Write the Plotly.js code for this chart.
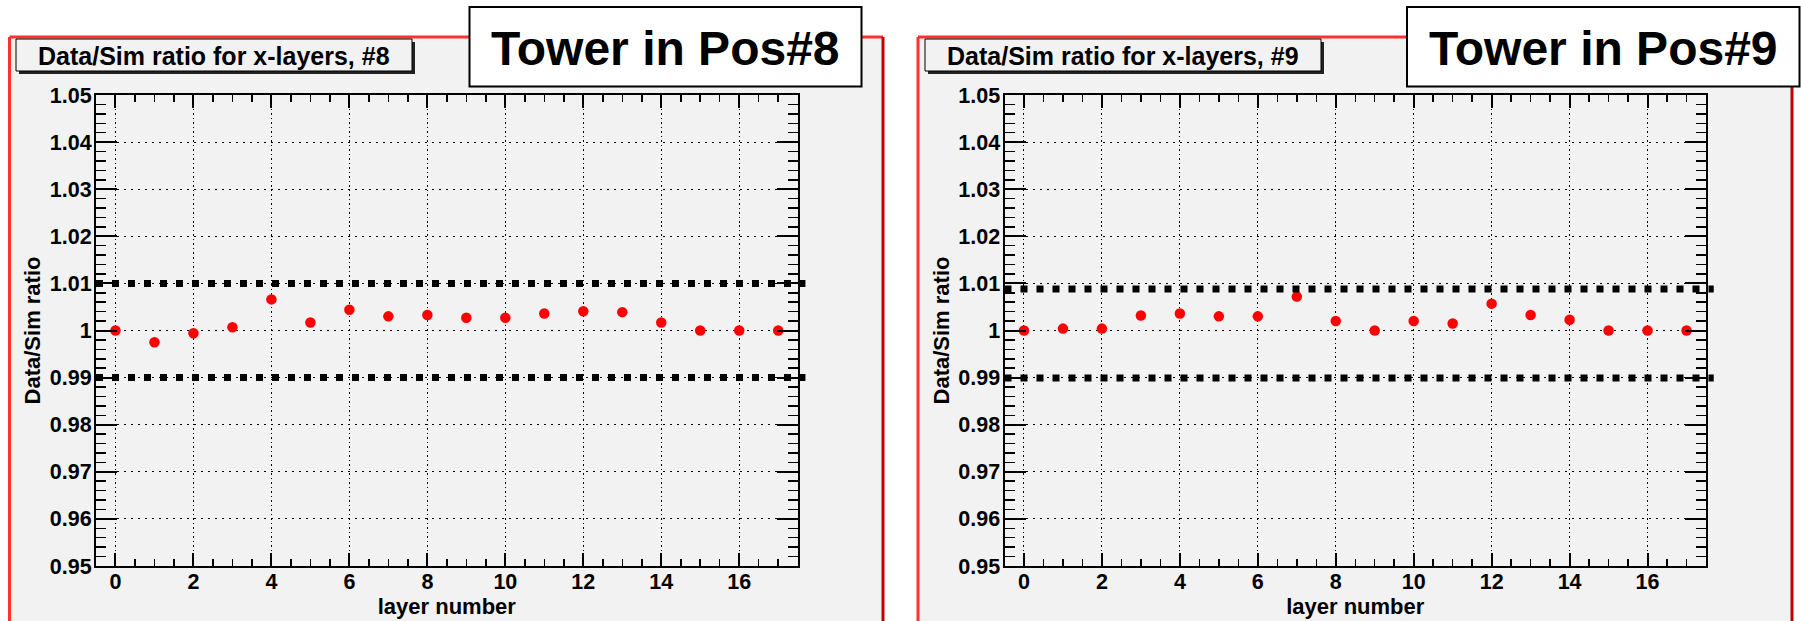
<!DOCTYPE html>
<html>
<head>
<meta charset="utf-8">
<script src="https://cdn.plot.ly/plotly-3.0.1.min.js"></script>
<style>
  html, body { margin: 0; padding: 0; background: #ffffff; }
  #chart { width: 1801px; height: 621px; }
</style>
</head>
<body>
<div id="chart"></div>
<script>
// ---------------- data ----------------
const layers = [0, 1, 2, 3, 4, 5, 6, 7, 8, 9, 10, 11, 12, 13, 14, 15, 16, 17];
const ratioPos8 = [1.0, 0.9975, 0.9994, 1.0007, 1.0066, 1.0017, 1.0044, 1.0030, 1.0033,
                   1.0027, 1.0027, 1.0036, 1.0041, 1.0039, 1.0017, 1.0, 1.0, 1.0];
const ratioPos9 = [1.0, 1.0004, 1.0004, 1.0032, 1.0036, 1.0030, 1.0030, 1.0072, 1.0020,
                   1.0, 1.0020, 1.0015, 1.0057, 1.0033, 1.0023, 1.0, 1.0, 1.0];
const bandPos8 = [0.99, 1.01];
const bandPos9 = [0.9899, 1.0088];
const padTitles = ['Data/Sim ratio for x-layers, #8', 'Data/Sim ratio for x-layers, #9'];
const towerLabels = ['Tower in Pos#8', 'Tower in Pos#9'];
const xTitle = 'layer number';
const yTitle = 'Data/Sim ratio';
const yRange = [0.95, 1.05];
const xRange = [-0.5, 17.5];

// ---------------- geometry helpers ----------------
const W = 1801, H = 621;
const px = x => x / W;
const py = y => 1 - y / H;
const FONT = 'Liberation Sans, Arial, Helvetica, sans-serif';

function xAxis(domain, anchor) {
  return {
    domain: domain, anchor: anchor, range: xRange,
    tick0: 0, dtick: 2, ticks: 'inside', ticklen: 13, tickwidth: 2, tickcolor: '#000',
    minor: { tick0: 0, dtick: 0.5, ticks: 'inside', ticklen: 7, tickwidth: 1.5, tickcolor: '#000', showgrid: false },
    showline: true, linecolor: '#000', linewidth: 2, mirror: 'allticks',
    showgrid: true, gridcolor: '#000', gridwidth: 1, griddash: '1.5px,3px',
    zeroline: false, fixedrange: true,
    tickfont: { family: FONT, size: 21.5, weight: 'bold', color: '#000' },
    ticklabelstandoff: -5,
    title: { text: xTitle, font: { family: FONT, size: 22, weight: 'bold', color: '#000' }, standoff: 0 }
  };
}
function yAxis(domain, anchor) {
  return {
    domain: domain, anchor: anchor, range: yRange,
    tick0: 0.95, dtick: 0.01, ticks: 'inside', ticklen: 21, tickwidth: 2, tickcolor: '#000',
    minor: { dtick: 0.002, ticks: 'inside', ticklen: 10, tickwidth: 1.5, tickcolor: '#000', showgrid: false },
    showline: true, linecolor: '#000', linewidth: 2, mirror: 'allticks',
    showgrid: true, gridcolor: '#000', gridwidth: 1, griddash: '2px,5px',
    zeroline: false, fixedrange: true,
    tickfont: { family: FONT, size: 21.5, weight: 'bold', color: '#000' },
    ticklabelstandoff: -2,
    title: { text: yTitle, font: { family: FONT, size: 22, weight: 'bold', color: '#000' }, standoff: 3 }
  };
}

const yDom = [py(566), py(95)];

const traces = [
  { type: 'scatter', mode: 'markers', x: layers, y: ratioPos8, xaxis: 'x', yaxis: 'y',
    marker: { color: '#ff0000', size: 10.5, symbol: 'circle' }, hoverinfo: 'x+y' },
  { type: 'scatter', mode: 'markers', x: layers, y: ratioPos9, xaxis: 'x2', yaxis: 'y2',
    marker: { color: '#ff0000', size: 10.5, symbol: 'circle' }, hoverinfo: 'x+y' }
];

// ---------------- decoration shapes ----------------
const shapes = [];
function rect(x0, y0, x1, y1, fill, lineColor, lineWidth, layer) {
  shapes.push({ type: 'rect', xref: 'paper', yref: 'paper',
    x0: px(x0), x1: px(x1), y0: py(y1), y1: py(y0),
    fillcolor: fill, line: { color: lineColor || fill, width: lineWidth || 0 }, layer: layer || 'below' });
}
function seg(x0, y0, x1, y1, color, width, layer) {
  shapes.push({ type: 'line', xref: 'paper', yref: 'paper',
    x0: px(x0), x1: px(x1), y0: py(y0), y1: py(y1),
    line: { color: color, width: width }, layer: layer || 'below' });
}
// pads (grey background with red frame)
const pads = [[9.5, 883], [918, 1792]];
pads.forEach(p => {
  rect(p[0], 37, p[1], 660, '#f2f2f2');
  seg(p[0], 37, p[1], 37, '#ff3030', 3);
  seg(p[0], 37, p[0], 660, '#ff3030', 3);
  seg(p[1], 37, p[1], 660, '#c00000', 3);
});
// band lines (thick dashed) on each panel, through the axes' y scale
[[bandPos8, 'x domain', 'y'], [bandPos9, 'x2 domain', 'y2']].forEach(b => {
  b[0].forEach(v => {
    shapes.push({ type: 'line', xref: b[1], yref: b[2], x0: 0, x1: 1.011, y0: v, y1: v,
      line: { color: '#000', width: 7, dash: '7px,9px' }, layer: 'above' });
  });
});
// pad title boxes with shadow
const titleBoxes = [[16, 39, 412, 71], [925, 39, 1321, 71]];
titleBoxes.forEach(b => {
  rect(b[0] + 3, b[1] + 3, b[2] + 3, b[3] + 3, '#222222', '#222222', 0, 'above');
  rect(b[0], b[1], b[2], b[3], '#f2f2f2', '#000000', 1, 'above');
});
// "Tower in Pos" boxes
const towerBoxes = [[469.5, 7, 861.5, 86.5], [1407, 7, 1799.5, 86.5]];
towerBoxes.forEach(b => {
  rect(b[0], b[1], b[2], b[3], '#ffffff', '#000000', 2, 'above');
});

// ---------------- annotations ----------------
const annotations = [];
titleBoxes.forEach((b, i) => {
  annotations.push({ xref: 'paper', yref: 'paper', x: px((b[0] + b[2]) / 2), y: py(56),
    xanchor: 'center', yanchor: 'middle', showarrow: false, text: padTitles[i],
    font: { family: FONT, size: 25, weight: 'bold', color: '#000' } });
});
towerBoxes.forEach((b, i) => {
  annotations.push({ xref: 'paper', yref: 'paper', x: px((b[0] + b[2]) / 2), y: py(48),
    xanchor: 'center', yanchor: 'middle', showarrow: false, text: towerLabels[i],
    font: { family: FONT, size: 48, weight: 'bold', color: '#000' } });
});

const layout = {
  width: W, height: H,
  margin: { l: 0, r: 0, t: 0, b: 0, pad: 0 },
  paper_bgcolor: '#ffffff', plot_bgcolor: '#f2f2f2',
  showlegend: false,
  xaxis: xAxis([px(96), px(797.7)], 'y'),
  yaxis: yAxis(yDom, 'x'),
  xaxis2: xAxis([px(1004.5), px(1706)], 'y2'),
  yaxis2: yAxis(yDom, 'x2'),
  shapes: shapes,
  annotations: annotations
};

Plotly.newPlot('chart', traces, layout, { displayModeBar: false, staticPlot: true });
</script>
</body>
</html>
